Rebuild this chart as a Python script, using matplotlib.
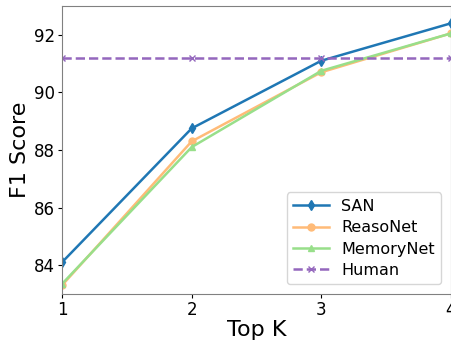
import matplotlib
matplotlib.use("Agg")
import matplotlib.pyplot as plt

top_k = [1, 2, 3, 4]
san = [84.1, 88.75, 91.1, 92.4]
reasonet = [83.3, 88.3, 90.7, 92.05]
memorynet = [83.35, 88.1, 90.75, 92.05]
human = [91.2, 91.2, 91.2, 91.2]

fig = plt.figure(figsize=(4.52, 3.42), dpi=100)
ax = fig.add_axes([62 / 452, 48 / 342, 389 / 452, 288 / 342])

ax.plot(top_k, san, color='#1f77b4', marker='d', markersize=5, linewidth=1.8, label='SAN')
ax.plot(top_k, reasonet, color='#ffbb78', marker='o', markersize=5, linewidth=1.8, label='ReasoNet')
ax.plot(top_k, memorynet, color='#98df8a', marker='^', markersize=5, linewidth=1.8, label='MemoryNet')
ax.plot(top_k, human, color='#9467bd', marker='x', markersize=5, linewidth=1.8,
        linestyle='--', label='Human')

ax.set_xlim(1, 4)
ax.set_ylim(83, 93)
ax.set_xticks(top_k)
ax.set_yticks([84, 86, 88, 90, 92])
ax.tick_params(labelsize=12, length=3, pad=2)
ax.set_xlabel('Top K', fontsize=16, labelpad=1)
ax.set_ylabel('F1 Score', fontsize=16, labelpad=3)
for s in ax.spines.values():
    s.set_color('#808080')

ax.legend(loc='lower right', fontsize=11.5, labelspacing=0.4, borderaxespad=0.6,
          handlelength=2.2)

fig.savefig('out.png', dpi=100)
